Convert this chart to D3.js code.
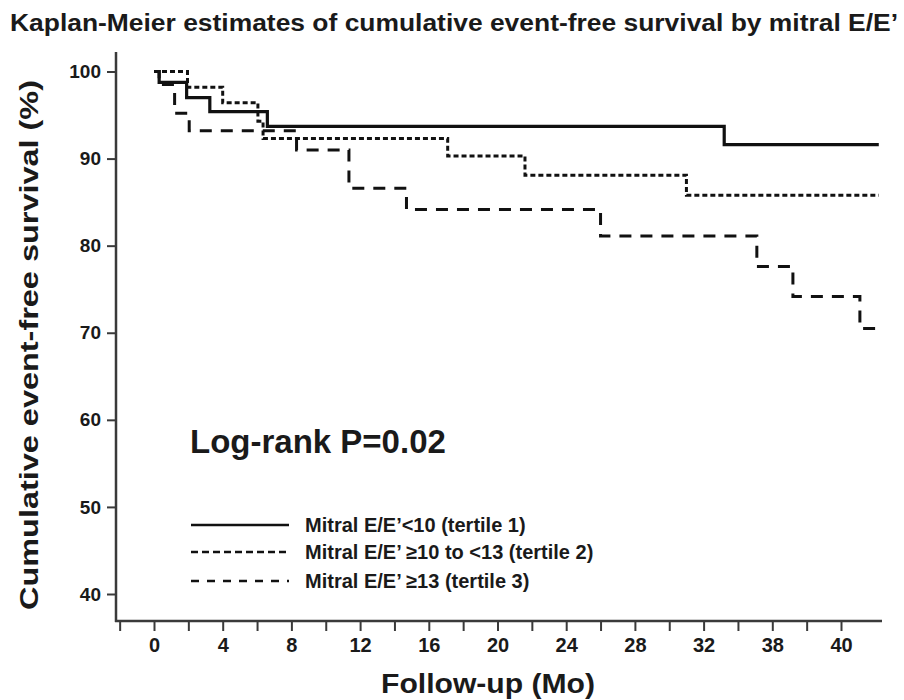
<!DOCTYPE html>
<html>
<head>
<meta charset="utf-8">
<script src="https://cdn.jsdelivr.net/npm/d3@7"></script>
<style>
  body { margin: 0; background: #fff; }
  text { font-family: "Liberation Sans", Arial, sans-serif; font-weight: bold; fill: #1a1a1a; }
</style>
</head>
<body>
<svg id="chart" width="904" height="700"></svg>
<script>
// Kaplan-Meier curves (months, % event-free)
const tertile1T = [0, 0.3, 1.9, 3.25, 6.6, 33.2, 42.2];
const tertile1S = [100, 98.75, 97.0, 95.4, 93.7, 91.6, 91.6];

const tertile2T = [0, 1.95, 4.0, 6.05, 6.35, 17.1, 21.6, 31.0, 42.2];
const tertile2S = [100, 98.2, 96.4, 94.3, 92.3, 90.3, 88.1, 85.8, 85.8];

const tertile3T = [0, 0.3, 1.2, 2.05, 8.3, 11.35, 14.7, 26.0, 35.1, 37.2, 41.1, 42.2];
const tertile3S = [100, 98.5, 95.2, 93.2, 91.0, 86.6, 84.15, 81.1, 77.6, 74.15, 70.5, 70.5];

const seriesNames = [
    "Mitral E/E\u2019<10 (tertile 1)",
    "Mitral E/E\u2019 \u226510 to <13 (tertile 2)",
    "Mitral E/E\u2019 \u226513 (tertile 3)"
];

const xTickValues = [0, 4, 8, 12, 16, 20, 24, 28, 32, 36, 40];
const xTickLabels = ["0", "4", "8", "12", "16", "20", "24", "28", "32", "38", "40"];
const yTickValues = [40, 50, 60, 70, 80, 90, 100];

const svg = d3.select("#chart");

const x = d3.scaleLinear().domain([0, 40]).range([154, 841]);
const y = d3.scaleLinear().domain([40, 100]).range([594, 71.5]);

// axis frame (left + bottom only)
const axisColor = "#3a3a3a";
svg.append("line")
    .attr("x1", 116).attr("x2", 116)
    .attr("y1", 52).attr("y2", 622)
    .attr("stroke", axisColor).attr("stroke-width", 2.5);
svg.append("line")
    .attr("x1", 115).attr("x2", 882)
    .attr("y1", 621).attr("y2", 621)
    .attr("stroke", axisColor).attr("stroke-width", 2.5);

// y ticks
const yAxis = svg.append("g")
    .attr("transform", "translate(116,0)")
    .call(d3.axisLeft(y).tickValues(yTickValues).tickSize(9).tickPadding(6));
yAxis.select(".domain").remove();
yAxis.selectAll(".tick line").attr("stroke", axisColor).attr("stroke-width", 2);
yAxis.selectAll(".tick text")
    .attr("font-size", 19)
    .attr("font-family", "Liberation Sans, Arial, sans-serif")
    .attr("font-weight", "bold")
    .attr("fill", "#1a1a1a");

// x ticks: one every 2 months, labels every 4
const minorTicks = d3.range(-2, 41, 2);
const xMinor = svg.append("g")
    .attr("transform", "translate(0,621)")
    .call(d3.axisBottom(x).tickValues(minorTicks).tickSize(10).tickFormat(""));
xMinor.select(".domain").remove();
xMinor.selectAll(".tick line").attr("stroke", axisColor).attr("stroke-width", 2);

const xAxis = svg.append("g")
    .attr("transform", "translate(0,621)")
    .call(d3.axisBottom(x).tickValues(xTickValues).tickSize(0).tickPadding(17)
          .tickFormat(function(d, i) { return xTickLabels[i]; }));
xAxis.select(".domain").remove();
xAxis.selectAll(".tick text")
    .attr("font-size", 20)
    .attr("font-family", "Liberation Sans, Arial, sans-serif")
    .attr("font-weight", "bold")
    .attr("fill", "#1a1a1a");

// curves
const styles = [
    { dash: null,   width: 3.2 },
    { dash: "5,3",  width: 3 },
    { dash: "12,9", width: 3 }
];
const curves = [
    d3.zip(tertile1T, tertile1S),
    d3.zip(tertile2T, tertile2S),
    d3.zip(tertile3T, tertile3S)
];

const line = d3.line()
    .x(function(d) { return x(d[0]); })
    .y(function(d) { return y(d[1]); })
    .curve(d3.curveStepAfter);

svg.selectAll("path.km")
    .data(curves)
    .enter()
    .append("path")
    .attr("class", "km")
    .attr("d", line)
    .attr("fill", "none")
    .attr("stroke", "#111")
    .attr("stroke-width", function(d, i) { return styles[i].width; })
    .attr("stroke-dasharray", function(d, i) { return styles[i].dash; });

// legend
const legendStyles = [null, "7,4", "8,8"];
const legend = svg.selectAll("g.legend")
    .data(seriesNames)
    .enter()
    .append("g")
    .attr("class", "legend")
    .attr("transform", function(d, i) { return "translate(0," + [525, 552, 581][i] + ")"; });
legend.append("line")
    .attr("x1", 191).attr("x2", 289)
    .attr("stroke", "#111").attr("stroke-width", 2.5)
    .attr("stroke-dasharray", function(d, i) { return legendStyles[i]; });
legend.append("text")
    .attr("x", 305).attr("y", 7)
    .attr("font-size", 20)
    .attr("fill", "#2a2a2a")
    .text(function(d) { return d; });

// annotations
svg.append("text")
    .attr("x", 190).attr("y", 453)
    .attr("font-size", 33)
    .text("Log-rank P=0.02");

svg.append("text")
    .attr("x", 10).attr("y", 31)
    .attr("font-size", 23)
    .attr("textLength", 888)
    .attr("lengthAdjust", "spacingAndGlyphs")
    .text("Kaplan-Meier estimates of cumulative event-free survival by mitral E/E\u2019");

svg.append("text")
    .attr("transform", "translate(38,345) rotate(-90)")
    .attr("text-anchor", "middle")
    .attr("font-size", 26)
    .attr("textLength", 530)
    .attr("lengthAdjust", "spacingAndGlyphs")
    .text("Cumulative event-free survival (%)");

svg.append("text")
    .attr("x", 488).attr("y", 693)
    .attr("text-anchor", "middle")
    .attr("font-size", 27)
    .attr("textLength", 214)
    .attr("lengthAdjust", "spacingAndGlyphs")
    .text("Follow-up (Mo)");
</script>
</body>
</html>
